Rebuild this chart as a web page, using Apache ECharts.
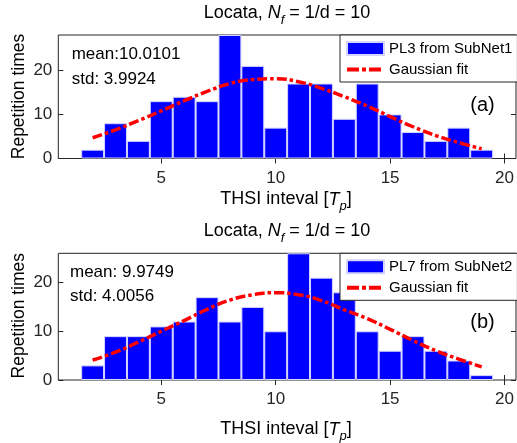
<!DOCTYPE html>
<html><head><meta charset="utf-8">
<script src="https://cdn.jsdelivr.net/npm/echarts@6/dist/echarts.min.js"></script>
<style>html,body{margin:0;padding:0;background:#fff}#c{width:517px;height:443px}</style>
</head><body><div id="c"></div>
<script>
// ---- data ----
const binCenters = [2,3,4,5,6,7,8,9,10,11,12,13,14,15,16,17,18,19];
const countsA = [2,8,4,13,14,13,28,21,7,17,17,9,17,10,6,4,7,2];
const countsB = [3,9,9,11,12,17,12,15,10,26,21,18,10,6,9,6,4,1];
const fitA = [4.7,6.5,8.6,10.8,13.1,15.2,17.0,17.9,18.1,17.4,15.9,14.0,11.9,9.5,7.2,5.2,3.6,2.2];
const fitB = [4.1,5.7,7.8,10.0,12.2,14.5,16.4,17.5,17.9,17.5,16.3,14.4,12.6,10.4,8.1,6.0,4.3,2.7];
const xTicks = [5,10,15,20];
const yTicks = [0,10,20];
const xMin = 0.5, xMax = 20.5;
const yMaxA = 28, yMaxB = 26;
const barNameA = 'PL3 from SubNet1';
const barNameB = 'PL7 from SubNet2';
const fitName = 'Gaussian fit';
const statsA = ['mean:10.0101', 'std: 3.9924'];
const statsB = ['mean: 9.9749', 'std: 4.0056'];
const panelTags = ['(a)', '(b)'];
const titleText = '{n|Locata, }{i|N}{s|f}{n| = 1/d = 10}';
const xLabelText = '{n|THSI inteval [}{i|T}{s|p}{n|]}';
const yLabelText = 'Repetition times';

// ---- layout ----
const F = 'Liberation Sans, Arial, sans-serif';
const AX = '#262626';
const grids = [
  {left: 58.3, top: 35, width: 457.7, height: 123.5},
  {left: 58.3, top: 253.3, width: 457.7, height: 126.7}
];
const yMaxes = [yMaxA, yMaxB];

function xAxes(gi) {
  const base = {type:'value', gridIndex: gi, min: xMin, max: xMax, splitLine:{show:false}, axisLine:{show:false}};
  return [
    Object.assign({}, base, {position:'bottom',
      axisTick:{inside:true, length:5, customValues:xTicks, lineStyle:{color:AX}},
      axisLabel:{customValues:xTicks, fontSize:17, color:AX, fontFamily:F, margin:11}}),
    Object.assign({}, base, {position:'top',
      axisTick:{inside:true, length:5, customValues:xTicks, lineStyle:{color:AX}},
      axisLabel:{show:false}})
  ];
}
function yAxes(gi) {
  const base = {type:'value', gridIndex: gi, min: 0, max: yMaxes[gi], splitLine:{show:false}, axisLine:{show:false}};
  return [
    Object.assign({}, base, {position:'left',
      axisTick:{inside:true, length:5, customValues:yTicks, lineStyle:{color:AX}},
      axisLabel:{customValues:yTicks, fontSize:17, color:AX, fontFamily:F, margin:6}}),
    Object.assign({}, base, {position:'right',
      axisTick:{inside:true, length:5, customValues:yTicks, lineStyle:{color:AX}},
      axisLabel:{show:false}})
  ];
}

const richZ = {
  n: {fontSize: 18, fontFamily: F, fill: '#000'},
  i: {fontSize: 18, fontFamily: F, fontStyle: 'italic', fill: '#000'},
  s: {fontSize: 13, fontFamily: F, fontStyle: 'italic', fill: '#000', padding: [14,0,0,0]}
};
function txt(x, y, text, opts) {
  return Object.assign({type:'text', x:x, y:y, z:100,
    style: Object.assign({text:text, fontSize:17, fontFamily:F, fill:'#000', align:'left', verticalAlign:'middle'}, opts||{})});
}

const barStyle = {color:'#0000ff', borderColor:'#d4d4ff', borderWidth:1};
const lineStyle = {color:'#ff0000', width:3.5, type:[10,3,3.5,3]};

function legend(gi, barName) {
  return {
    left: 340, top: grids[gi].top, orient:'vertical', padding:[6,5,5,5], itemGap:6,
    itemWidth:37, itemHeight:13, backgroundColor:'#fff', borderColor:AX, borderWidth:1, borderRadius:0,
    selectedMode:false, z:50,
    textStyle:{fontSize:15, color:'#000', fontFamily:F},
    data:[{name:barName, icon:'rect'},
          {name:fitName, itemStyle:{opacity:0}, lineStyle:{width:4, type:[12,3,4,3], color:'#ff0000'}}]
  };
}

const option = {
  animation:false,
  backgroundColor:'#fff',
  grid: grids.map(g => Object.assign({show:true, borderColor:AX, borderWidth:1, backgroundColor:'transparent'}, g)),
  xAxis: [].concat(xAxes(0), xAxes(1)),
  yAxis: [].concat(yAxes(0), yAxes(1)),
  legend: [legend(0, barNameA), legend(1, barNameB)],
  series: [
    {type:'bar', name:barNameA, xAxisIndex:0, yAxisIndex:0, barWidth:22.9, itemStyle:barStyle,
      data: binCenters.map((x,i)=>[x, countsA[i]])},
    {type:'line', name:fitName, xAxisIndex:0, yAxisIndex:0, smooth:true, symbol:'none',
      lineStyle:lineStyle, itemStyle:{color:'#ff0000'}, z:5,
      data: binCenters.map((x,i)=>[x, fitA[i]])},
    {type:'bar', name:barNameB, xAxisIndex:2, yAxisIndex:2, barWidth:22.9, itemStyle:barStyle,
      data: binCenters.map((x,i)=>[x, countsB[i]])},
    {type:'line', name:fitName, xAxisIndex:2, yAxisIndex:2, smooth:true, symbol:'none',
      lineStyle:lineStyle, itemStyle:{color:'#ff0000'}, z:5,
      data: binCenters.map((x,i)=>[x, fitB[i]])}
  ],
  graphic: [
    txt(287, 13, titleText, {align:'center', rich:richZ}),
    txt(287, 231, titleText, {align:'center', rich:richZ}),
    txt(286, 199.5, xLabelText, {align:'center', rich:richZ}),
    txt(286, 429.5, xLabelText, {align:'center', rich:richZ}),
    Object.assign(txt(19, 96.5, yLabelText, {align:'center', fontSize:17.5}), {rotation:Math.PI/2}),
    Object.assign(txt(19, 315.7, yLabelText, {align:'center', fontSize:17.5}), {rotation:Math.PI/2}),
    txt(71.7, 54, statsA[0]),
    txt(71.7, 79, statsA[1]),
    txt(70, 272, statsB[0]),
    txt(70, 296.5, statsB[1]),
    txt(482.5, 105, panelTags[0], {align:'center', fontSize:20}),
    txt(482.5, 322, panelTags[1], {align:'center', fontSize:20})
  ]
};
const chart = echarts.init(document.getElementById('c'), null, {renderer:'canvas'});
chart.setOption(option);
</script>
</body></html>
